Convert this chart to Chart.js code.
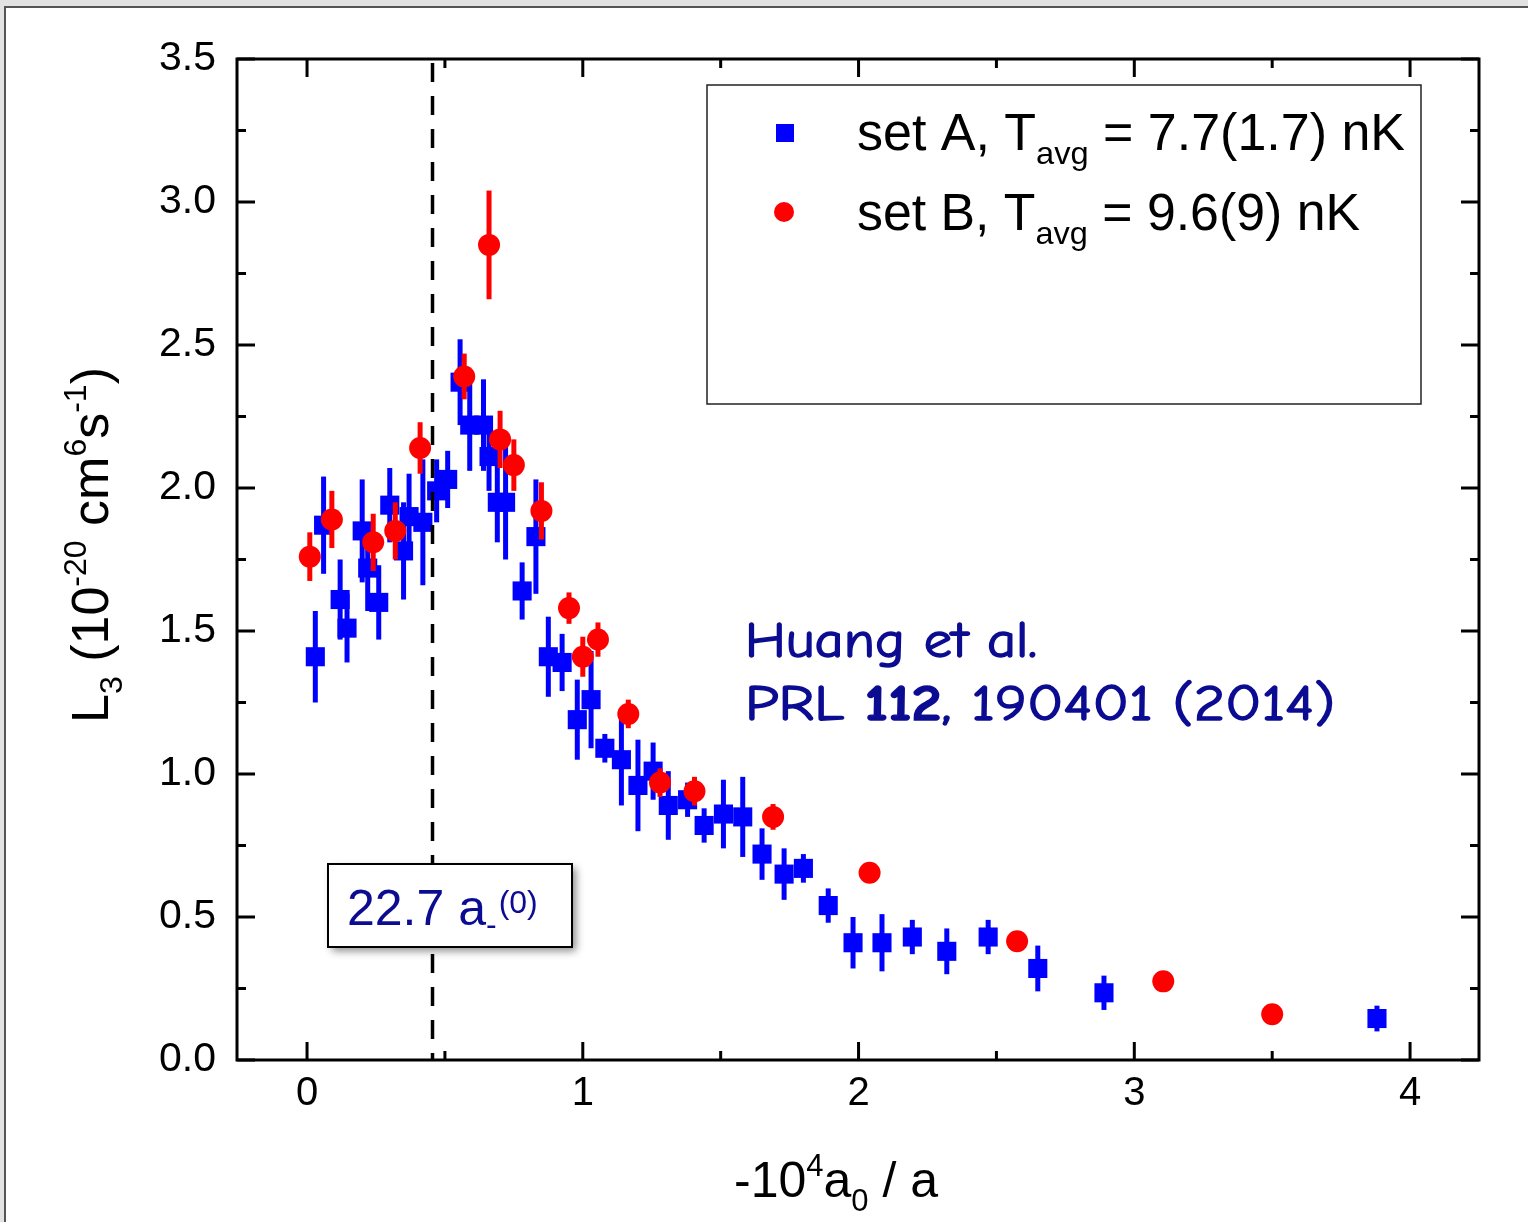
<!DOCTYPE html>
<html>
<head>
<meta charset="utf-8">
<script src="https://cdn.jsdelivr.net/npm/chart.js@4.4.1/dist/chart.umd.min.js"></script>
<style>
  html, body { margin: 0; padding: 0; background: #fff; }
  #wrap { position: relative; width: 1528px; height: 1222px; }
</style>
</head>
<body>
<div id="wrap"><canvas id="chart" width="1528" height="1222"></canvas></div>
<script>
// set A (blue squares)
const setA_x   = [0.03, 0.06, 0.12, 0.145, 0.20, 0.22, 0.26, 0.30, 0.35, 0.37, 0.42, 0.47, 0.51,
                  0.555, 0.59, 0.64, 0.66, 0.69, 0.72, 0.78, 0.83, 0.875, 0.925, 0.98, 1.03,
                  1.08, 1.14, 1.20, 1.255, 1.31, 1.38, 1.44, 1.51, 1.58, 1.65, 1.73, 1.80,
                  1.89, 1.98, 2.085, 2.195, 2.32, 2.47, 2.65, 2.89, 3.88];
const setA_y   = [1.41, 1.87, 1.61, 1.51, 1.85, 1.72, 1.60, 1.94, 1.78, 1.90, 1.88, 1.99, 2.03,
                  2.37, 2.22, 2.22, 2.11, 1.95, 1.95, 1.64, 1.83, 1.41, 1.39, 1.19, 1.26,
                  1.09, 1.05, 0.96, 1.01, 0.89, 0.91, 0.82, 0.86, 0.85, 0.72, 0.65, 0.67,
                  0.54, 0.41, 0.41, 0.43, 0.38, 0.43, 0.32, 0.235, 0.145];
const setA_err = [0.16, 0.17, 0.14, 0.12, 0.18, 0.15, 0.13, 0.13, 0.17, 0.15, 0.22, 0.11, 0.10,
                  0.15, 0.16, 0.16, 0.12, 0.14, 0.20, 0.10, 0.20, 0.14, 0.10, 0.14, 0.17,
                  0.05, 0.16, 0.16, 0.10, 0.12, 0.06, 0.06, 0.12, 0.14, 0.09, 0.09, 0.05,
                  0.06, 0.09, 0.10, 0.06, 0.08, 0.06, 0.08, 0.06, 0.045];

// set B (red circles)
const setB_x   = [0.01, 0.09, 0.24, 0.32, 0.41, 0.57, 0.66, 0.70, 0.75, 0.85, 0.95, 1.00, 1.055,
                  1.165, 1.28, 1.405, 1.69, 2.04, 2.575, 3.105, 3.50];
const setB_y   = [1.76, 1.89, 1.81, 1.85, 2.14, 2.39, 2.85, 2.17, 2.08, 1.92, 1.58, 1.41, 1.47,
                  1.21, 0.97, 0.94, 0.85, 0.655, 0.415, 0.275, 0.16];
const setB_err = [0.085, 0.10, 0.10, 0.10, 0.09, 0.08, 0.19, 0.10, 0.09, 0.10, 0.055, 0.07, 0.06,
                  0.05, 0.05, 0.05, 0.045, 0.03, 0.03, 0.03, 0.03];

const xTicks = [0, 1, 2, 3, 4];
const yTicks = [0, 0.5, 1, 1.5, 2, 2.5, 3, 3.5];
const xMinor = [0.5, 1.5, 2.5, 3.5];
const yMinor = [0.25, 0.75, 1.25, 1.75, 2.25, 2.75, 3.25];

const resonanceX = 0.455;   // 22.7 a_-(0)

const FONT  = 'Arial, "Liberation Sans", sans-serif';
const COMIC = '"Comic Sans MS", "Comic Neue", "DejaVu Sans", sans-serif';
const NAVY  = '#0c0c92';

// draws text made of normal / sub / sup parts, returns width
function richText(ctx, parts, x, y, size, family, draw, subDrop) {
  let cx = x;
  parts.forEach(p => {
    const s = p.k === 'n' ? size : Math.round(size * 0.62);
    ctx.font = (p.b ? 'bold ' : '') + s + 'px ' + family;
    const dy = p.k === 'sub' ? size * (subDrop || 0.27) : p.k === 'sup' ? -size * 0.42 : 0;
    if (draw) {
      ctx.fillText(p.s, cx, y + dy);
      if (p.heavy) ctx.strokeText(p.s, cx, y + dy);
    }
    cx += ctx.measureText(p.s).width;
  });
  return cx - x;
}

// fit a line of text to a target width by stretching horizontally
function fitText(ctx, parts, x, y, size, family, target) {
  const w = richText(ctx, parts, 0, 0, size, family, false);
  ctx.save();
  ctx.translate(x, y);
  ctx.scale(target / w, 1);
  richText(ctx, parts, 0, 0, size, family, true);
  ctx.restore();
}

const framePlugin = {
  id: 'frame',
  beforeDraw(chart) {
    const ctx = chart.ctx;
    ctx.save();
    ctx.fillStyle = '#e2e2e2';
    ctx.fillRect(0, 0, chart.width, chart.height);
    ctx.fillStyle = '#fff';
    ctx.fillRect(6, 8, chart.width - 6, chart.height - 8);
    ctx.strokeStyle = '#555';
    ctx.lineWidth = 2;
    ctx.beginPath();
    ctx.moveTo(5, chart.height);
    ctx.lineTo(5, 7);
    ctx.lineTo(chart.width, 7);
    ctx.stroke();
    ctx.restore();
  }
};

const errorBars = {
  id: 'errorBars',
  beforeDatasetDraw(chart, args) {
    const ds = chart.data.datasets[args.index];
    if (!ds.errors) return;
    const ys = chart.scales.y;
    const ctx = chart.ctx;
    ctx.save();
    ctx.strokeStyle = ds.backgroundColor;
    ctx.lineWidth = 5;
    args.meta.data.forEach((pt, i) => {
      const v = ds.data[i].y, e = ds.errors[i];
      ctx.beginPath();
      ctx.moveTo(pt.x, ys.getPixelForValue(v - e));
      ctx.lineTo(pt.x, ys.getPixelForValue(v + e));
      ctx.stroke();
    });
    ctx.restore();
  }
};

const decor = {
  id: 'decor',
  afterDatasetsDraw(chart) {
    const ctx = chart.ctx;
    const xs = chart.scales.x;
    const a = chart.chartArea;
    // dashed resonance line
    ctx.save();
    ctx.strokeStyle = '#000';
    ctx.lineWidth = 3.5;
    ctx.setLineDash([19, 14]);
    const px = xs.getPixelForValue(resonanceX);
    ctx.beginPath();
    ctx.moveTo(px, a.top + 4);
    ctx.lineTo(px, a.bottom);
    ctx.stroke();
    ctx.restore();
  },
  afterDraw(chart) {
    const ctx = chart.ctx;
    const xs = chart.scales.x, ys = chart.scales.y;
    const a = chart.chartArea;

    ctx.save();
    // inward ticks on all four sides
    ctx.strokeStyle = '#000';
    ctx.lineWidth = 3;
    const tick = (vals, len) => {
      vals.forEach(v => {
        const p = xs.getPixelForValue(v);
        ctx.beginPath();
        ctx.moveTo(p, a.bottom); ctx.lineTo(p, a.bottom - len);
        ctx.moveTo(p, a.top);    ctx.lineTo(p, a.top + len);
        ctx.stroke();
      });
    };
    const ytick = (vals, len) => {
      vals.forEach(v => {
        const p = ys.getPixelForValue(v);
        ctx.beginPath();
        ctx.moveTo(a.left, p);  ctx.lineTo(a.left + len, p);
        ctx.moveTo(a.right, p); ctx.lineTo(a.right - len, p);
        ctx.stroke();
      });
    };
    tick(xTicks, 18); tick(xMinor, 9);
    ytick(yTicks, 18); ytick(yMinor, 9);
    ctx.strokeRect(a.left, a.top, a.right - a.left, a.bottom - a.top);

    // axis titles
    ctx.fillStyle = '#000';
    ctx.textBaseline = 'alphabetic';
    ctx.textAlign = 'left';
    const xt = [{s: '-10', k: 'n'}, {s: '4', k: 'sup'}, {s: 'a', k: 'n'}, {s: '0', k: 'sub'}, {s: ' / a', k: 'n'}];
    const xw = richText(ctx, xt, 0, 0, 50, FONT, false);
    richText(ctx, xt, 836 - xw / 2, 1197, 50, FONT, true);

    const yt = [{s: 'L', k: 'n'}, {s: '3', k: 'sub'}, {s: ' (10', k: 'n'}, {s: '-20', k: 'sup'},
                {s: ' cm', k: 'n'}, {s: '6', k: 'sup'}, {s: 's', k: 'n'}, {s: '-1', k: 'sup'}, {s: ')', k: 'n'}];
    const yw = richText(ctx, yt, 0, 0, 52, FONT, false);
    ctx.save();
    ctx.translate(108, 545);
    ctx.rotate(-Math.PI / 2);
    richText(ctx, yt, -yw / 2, 0, 52, FONT, true);
    ctx.restore();

    // legend
    ctx.strokeStyle = '#222';
    ctx.lineWidth = 1.5;
    ctx.strokeRect(707, 85, 714, 319);
    ctx.fillStyle = '#0000ff';
    ctx.fillRect(776, 124, 18, 18);
    ctx.fillStyle = '#ff0000';
    ctx.beginPath();
    ctx.arc(784, 212, 10, 0, Math.PI * 2);
    ctx.fill();
    ctx.fillStyle = '#000';
    fitText(ctx, [{s: 'set A, T', k: 'n'}, {s: 'avg', k: 'sub'}, {s: ' = 7.7(1.7) nK', k: 'n'}], 857, 150, 51, FONT, 548);
    fitText(ctx, [{s: 'set B, T', k: 'n'}, {s: 'avg', k: 'sub'}, {s: ' = 9.6(9) nK', k: 'n'}], 857, 230, 51, FONT, 503);

    // reference text
    ctx.fillStyle = NAVY;
    ctx.strokeStyle = NAVY;
    ctx.lineWidth = 1.4;
    fitText(ctx, [{s: 'Huang et al.', k: 'n', heavy: true}], 745, 657, 50, COMIC, 292);
    fitText(ctx, [{s: 'PRL ', k: 'n', heavy: true}, {s: '112', k: 'n', b: true, heavy: true},
                  {s: ', 190401 (2014)', k: 'n', heavy: true}], 745, 720, 50, COMIC, 590);

    // 22.7 a_-(0) box
    const bx = 328, by = 864, bw = 244, bh = 83;
    ctx.save();
    ctx.shadowColor = 'rgba(0,0,0,0.45)';
    ctx.shadowBlur = 8;
    ctx.shadowOffsetX = 4;
    ctx.shadowOffsetY = 4;
    ctx.fillStyle = '#fff';
    ctx.fillRect(bx, by, bw, bh);
    ctx.restore();
    ctx.strokeStyle = '#000';
    ctx.lineWidth = 2;
    ctx.strokeRect(bx, by, bw, bh);
    ctx.fillStyle = NAVY;
    ctx.font = '50px ' + FONT;
    ctx.fillText('22.7 a', 347, 925);
    const aw = ctx.measureText('22.7 a').width;
    ctx.font = '32px ' + FONT;
    ctx.fillText('-', 347 + aw, 935);
    const mw = ctx.measureText('-').width;
    ctx.fillText('(0)', 347 + aw + mw + 2, 913);
    ctx.restore();
  }
};

const ctx = document.getElementById('chart').getContext('2d');
new Chart(ctx, {
  type: 'scatter',
  data: {
    datasets: [
      {
        label: 'set A',
        data: setA_x.map((x, i) => ({x: x, y: setA_y[i]})),
        errors: setA_err,
        backgroundColor: '#0000ff',
        borderColor: '#0000ff',
        pointStyle: 'rect',
        pointRadius: 13.5,
        pointBorderWidth: 0,
        order: 2
      },
      {
        label: 'set B',
        data: setB_x.map((x, i) => ({x: x, y: setB_y[i]})),
        errors: setB_err,
        backgroundColor: '#ff0000',
        borderColor: '#ff0000',
        pointStyle: 'circle',
        pointRadius: 11,
        pointBorderWidth: 0,
        order: 1
      }
    ]
  },
  options: {
    responsive: false,
    animation: false,
    layout: { padding: { top: 59, right: 49, left: 0, bottom: 0 } },
    plugins: {
      legend: { display: false },
      tooltip: { enabled: false },
      title: { display: false }
    },
    scales: {
      x: {
        type: 'linear',
        min: -0.254,
        max: 4.25,
        afterFit(s) { s.height = 162; },
        afterBuildTicks(s) { s.ticks = xTicks.map(v => ({value: v})); },
        grid: { display: false, drawTicks: false },
        border: { display: false },
        ticks: {
          autoSkip: false,
          maxRotation: 0,
          color: '#000',
          font: { family: FONT, size: 40 },
          padding: 10,
          callback: v => String(v)
        }
      },
      y: {
        type: 'linear',
        min: 0,
        max: 3.5,
        afterFit(s) { s.width = 237; },
        afterBuildTicks(s) { s.ticks = yTicks.map(v => ({value: v})); },
        grid: { display: false, drawTicks: false },
        border: { display: false },
        ticks: {
          autoSkip: false,
          color: '#000',
          font: { family: FONT, size: 41 },
          padding: 21,
          callback: v => Number(v).toFixed(1)
        }
      }
    }
  },
  plugins: [framePlugin, errorBars, decor]
});
</script>
</body>
</html>
